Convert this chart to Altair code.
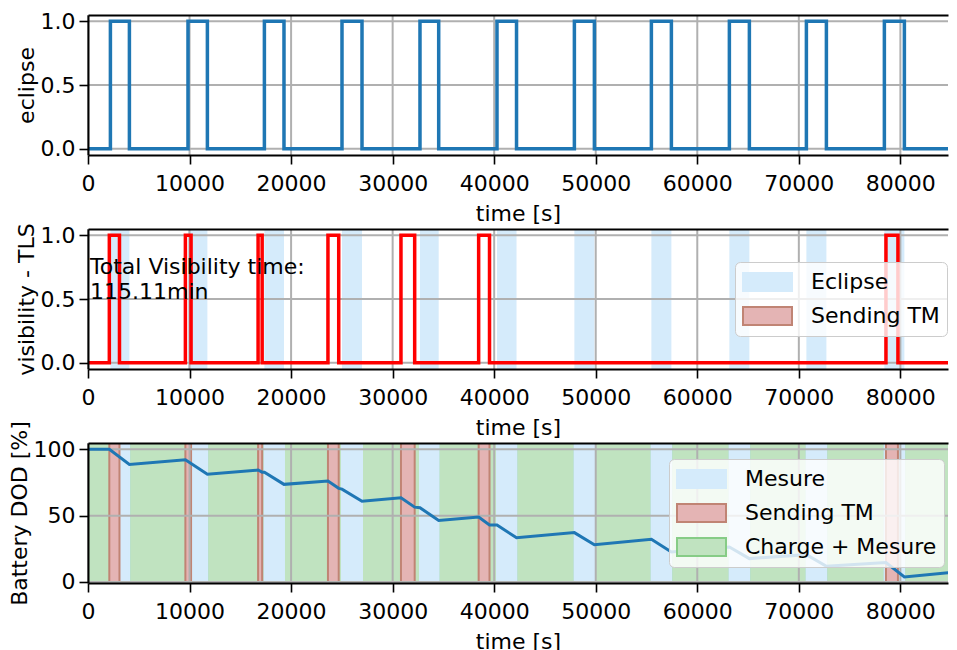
import altair as alt
import pandas as pd

# ---------------- data ----------------
eclipse_start = [2206, 9847, 17370, 25013, 32693, 40276, 47897, 55480, 63160, 70745, 78424]
eclipse_end = [4077, 11757, 19300, 26983, 34535, 42200, 49867, 57450, 65130, 72715, 80394]
vis_start = [2100, 9590, 16750, 23630, 30820, 38470, 78580]
vis_end = [3100, 10150, 17150, 24690, 32170, 39540, 79760]
dod_time = [0, 2100, 4077, 9590, 11757, 16750, 17150, 17370, 19300, 23630, 24690, 25013, 26983,
            30820, 32170, 32693, 34535, 38470, 39540, 40276, 42200, 47897, 49867, 55480, 57450,
            63160, 65130, 70745, 72715, 78580, 80394, 86400]
dod_value = [100, 100, 88.6, 92.2, 81.2, 84.4, 82.8, 82.7, 73.6, 76.1, 70.6, 70.0, 60.8,
             63.5, 56.4, 56.0, 46.3, 49.0, 43.0, 43.0, 33.3, 37.2, 28.0, 32.2, 22.6,
             26.4, 17.6, 20.6, 11.8, 14.6, 3.8, 8.2]
t_end = 86400
x_ticks = [0, 10000, 20000, 30000, 40000, 50000, 60000, 70000, 80000]
y_ticks_unit = [0.0, 0.5, 1.0]
y_ticks_dod = [0, 50, 100]
annotation = "Total Visibility time:\n115.11min"

# ---------------- styling ----------------
FONT = "DejaVu Sans"
FS = 22
X_MAX = 84690
W, H = 860, 140
GRID = "#b0b0b0"
BLUE_FILL = "#d5ebfb"
PINK_FILL = "#e4b4b4"
PINK_EDGE = "#c08474"
GREEN_FILL = "#c0e3c0"
GREEN_EDGE = "#86cc86"
LINE_BLUE = "#1f77b4"
PATCH = "M-1,-0.37L1,-0.37L1,0.37L-1,0.37Z"

XS = alt.Scale(domain=[0, X_MAX], nice=False, zero=False)


def step_frame(starts, ends):
    ts, vs = [0], [0]
    for s, e in zip(starts, ends):
        ts += [s, s, e, e]
        vs += [0, 1, 1, 0]
    ts.append(t_end)
    vs.append(0)
    return pd.DataFrame({"t": ts, "v": vs, "i": list(range(len(ts)))})


x_axis = alt.Axis(values=x_ticks, format="d", title="time [s]", grid=False, tickSize=9,
                  labelPadding=9, titlePadding=9, labelFlush=False, labelOverlap=False, zindex=1)
top_axis = alt.Axis(orient="top", labels=False, ticks=False, title=None, grid=False,
                    domain=True, zindex=1)


def y_axis(title, values, fmt):
    return alt.Axis(values=values, format=fmt, title=title, grid=False, tickSize=9,
                    labelPadding=4, titlePadding=2, zindex=1)


def grid_layers(y_values, ys):
    gx = alt.Chart(pd.DataFrame({"g": x_ticks})).mark_rule(color=GRID, strokeWidth=2).encode(
        x=alt.X("g:Q", scale=XS, axis=top_axis))
    gy = alt.Chart(pd.DataFrame({"g": y_values})).mark_rule(color=GRID, strokeWidth=2).encode(
        y=alt.Y("g:Q", scale=ys, axis=None))
    return gx, gy


def legend(x, y):
    return alt.Legend(title=None, orient="none", legendX=x, legendY=y,
                      fillColor="rgba(255,255,255,0.8)", strokeColor="#cccccc",
                      cornerRadius=5, padding=7, labelFontSize=FS, labelFont=FONT,
                      labelColor="black", labelLimit=400, symbolType=PATCH, symbolSize=2401,
                      symbolStrokeWidth=2, labelOffset=18, clipHeight=26, rowPadding=8)


# ---------------- panel 1: eclipse ----------------
ys1 = alt.Scale(domain=[-0.05, 1.05], nice=False, zero=False)
gx1, gy1 = grid_layers(y_ticks_unit, ys1)
ecl = alt.Chart(step_frame(eclipse_start, eclipse_end)).mark_line(
    color=LINE_BLUE, strokeWidth=3.5, clip=True).encode(
    x=alt.X("t:Q", scale=XS, axis=x_axis),
    y=alt.Y("v:Q", scale=ys1, axis=y_axis("eclipse", y_ticks_unit, ".1f")),
    order="i:Q")
p1 = alt.layer(gx1, gy1, ecl).resolve_axis(x="independent", y="independent").properties(
    width=W, height=H)

# ---------------- panel 2: visibility ----------------
ys2 = alt.Scale(domain=[-0.05, 1.05], nice=False, zero=False)
gx2, gy2 = grid_layers(y_ticks_unit, ys2)
ecl_spans = pd.DataFrame({"s": eclipse_start, "e": eclipse_end, "kind": ["Eclipse"] * len(eclipse_start)})
dom2 = ["Eclipse", "Sending TM"]
spans2 = alt.Chart(ecl_spans).mark_rect(strokeWidth=0, clip=True).encode(
    x=alt.X("s:Q", scale=XS, axis=None), x2="e:Q",
    fill=alt.Fill("kind:N", scale=alt.Scale(domain=dom2, range=[BLUE_FILL, PINK_FILL]),
                  legend=legend(647, 33)),
    stroke=alt.Stroke("kind:N", scale=alt.Scale(domain=dom2, range=[BLUE_FILL, PINK_EDGE]),
                      legend=legend(647, 33)))
vis = alt.Chart(step_frame(vis_start, vis_end)).mark_line(
    color="#ff0000", strokeWidth=3.5, clip=True).encode(
    x=alt.X("t:Q", scale=XS, axis=x_axis),
    y=alt.Y("v:Q", scale=ys2, axis=y_axis("visibility - TLS", y_ticks_unit, ".1f")),
    order="i:Q")
txt = alt.Chart(pd.DataFrame({"t": [200], "v": [0.70], "label": [annotation]})).mark_text(
    align="left", baseline="alphabetic", lineBreak="\n", lineHeight=25, font=FONT,
    fontSize=FS, color="black").encode(
    x=alt.X("t:Q", scale=XS, axis=None), y=alt.Y("v:Q", scale=ys2, axis=None), text="label:N")
p2 = alt.layer(spans2, gx2, gy2, vis, txt).resolve_axis(
    x="independent", y="independent").properties(width=W, height=H)

# ---------------- panel 3: battery ----------------
ys3 = alt.Scale(domain=[-0.8, 104.8], nice=False, zero=False)
gx3, gy3 = grid_layers(y_ticks_dod, ys3)
sun_start = [0] + eclipse_end
sun_end = eclipse_start + [t_end]
spans3_df = pd.concat([
    pd.DataFrame({"s": sun_start, "e": sun_end, "kind": "Charge + Mesure"}),
    pd.DataFrame({"s": eclipse_start, "e": eclipse_end, "kind": "Mesure"}),
    pd.DataFrame({"s": vis_start, "e": vis_end, "kind": "Sending TM"}),
], ignore_index=True)
spans3_df["o"] = range(len(spans3_df))
dom3 = ["Mesure", "Sending TM", "Charge + Mesure"]
spans3 = alt.Chart(spans3_df).mark_rect(strokeWidth=2, clip=True).encode(
    x=alt.X("s:Q", scale=XS, axis=None), x2="e:Q",
    fill=alt.Fill("kind:N", scale=alt.Scale(domain=dom3, range=[BLUE_FILL, PINK_FILL, GREEN_FILL]),
                  legend=legend(581, 16)),
    stroke=alt.Stroke("kind:N", scale=alt.Scale(domain=dom3, range=[BLUE_FILL, PINK_EDGE, GREEN_EDGE]),
                      legend=legend(581, 16)),
    order="o:Q")
dod = alt.Chart(pd.DataFrame({"t": dod_time, "v": dod_value})).mark_line(
    color=LINE_BLUE, strokeWidth=3, clip=True).encode(
    x=alt.X("t:Q", scale=XS, axis=x_axis),
    y=alt.Y("v:Q", scale=ys3, axis=y_axis("Battery DOD [%]", y_ticks_dod, "d")))
p3 = alt.layer(spans3, gx3, gy3, dod).resolve_axis(
    x="independent", y="independent").properties(width=W, height=H)

chart = alt.vconcat(p1, p2, p3, spacing=74, bounds="flush").resolve_scale(
    fill="independent", stroke="independent").resolve_legend(
    fill="independent", stroke="independent").properties(
    padding={"left": 0, "top": 2, "right": 0, "bottom": 0}
).configure_view(stroke=None).configure_axis(
    domainColor="black", domainWidth=2, tickColor="black", tickWidth=1.6,
    labelFont=FONT, labelFontSize=FS, labelColor="black",
    titleFont=FONT, titleFontSize=FS, titleFontWeight="normal", titleColor="black")

chart.save("out.html", embed_options={"renderer": "svg", "actions": False})
